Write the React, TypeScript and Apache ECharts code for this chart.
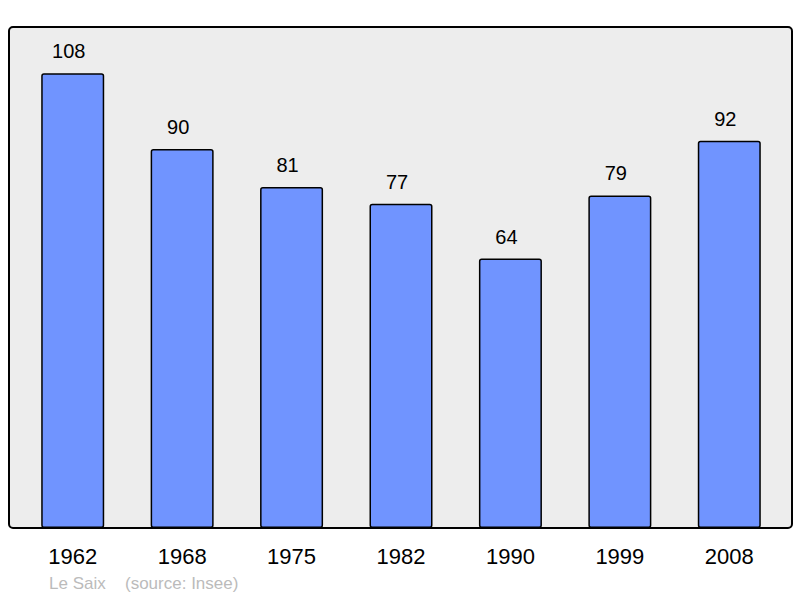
import { useEffect, useRef } from 'react';
import * as echarts from 'echarts';

const years = ['1962', '1968', '1975', '1982', '1990', '1999', '2008'];
const population = [108, 90, 81, 77, 64, 79, 92];
const placeName = 'Le Saix';
const sourceNote = '(source: Insee)';

const App = () => {
  const containerRef = useRef<HTMLDivElement>(null);

  useEffect(() => {
    if (!containerRef.current) return;
    const chart = echarts.init(containerRef.current, null, { renderer: 'svg' });

    const font = 'Liberation Sans, Arial, sans-serif';
    const option: echarts.EChartsOption = {
      animation: false,
      backgroundColor: '#ffffff',
      textStyle: { fontFamily: font },
      graphic: [
        {
          type: 'rect',
          z: -10,
          shape: { x: 9, y: 27, width: 783, height: 501, r: 4 },
          style: { fill: '#ededed', stroke: '#000000', lineWidth: 2 },
        },
        {
          type: 'text',
          left: 49,
          top: 575,
          style: { text: placeName, fill: '#bbbbbb', fontSize: 17, fontFamily: font },
        },
        {
          type: 'text',
          left: 125,
          top: 575,
          style: { text: sourceNote, fill: '#bbbbbb', fontSize: 17, fontFamily: font },
        },
      ],
      grid: { left: 18, right: 16, top: 27, bottom: 70, containLabel: false },
      xAxis: {
        type: 'category',
        data: years,
        axisLine: { show: false },
        axisTick: { show: false },
        axisLabel: { color: '#000000', fontSize: 22, margin: 17 },
      },
      yAxis: {
        type: 'value',
        min: 0,
        max: 119,
        show: false,
        splitLine: { show: false },
      },
      series: [
        {
          type: 'bar',
          data: population,
          barWidth: 63,
          itemStyle: {
            color: '#7094ff',
            borderColor: '#000000',
            borderWidth: 1.5,
            borderRadius: 2,
          },
          label: {
            show: true,
            position: 'top',
            distance: 12,
            offset: [-4, 0],
            color: '#000000',
            fontSize: 20,
          },
        },
      ],
    };

    chart.setOption(option);
    return () => chart.dispose();
  }, []);

  return (
    <div
      ref={containerRef}
      style={{ position: 'absolute', left: 0, top: 0, width: '800px', height: '598px' }}
    />
  );
};

export default App;
